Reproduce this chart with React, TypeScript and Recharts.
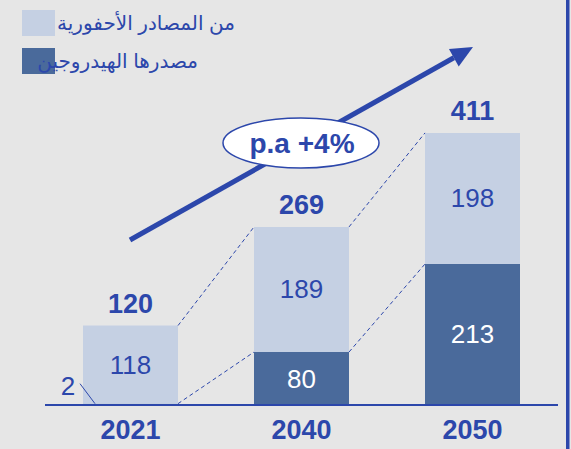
import React from "react";
import { BarChart, Bar, XAxis, YAxis, LabelList, ReferenceLine } from "recharts";

const years = ["2021", "2040", "2050"];
const hydrogen = [2, 80, 213];
const fossil = [118, 189, 198];
const totals = [120, 269, 411];
const legendLabels = ["من المصادر الأحفورية", "مصدرها الهيدروجين"];
const growthLabel = "p.a +4%";

const data = years.map((y, i) => ({ x: i, year: y, hydrogen: hydrogen[i], fossil: fossil[i], total: totals[i] }));

const W = 571;
const H = 449;
const M = { top: 74, right: 13, left: 45, bottom: 0 };
const BAR_SIZE = 95;
const PLOT_W = W - M.left - M.right;
const HALF = BAR_SIZE / 2 / (PLOT_W / years.length);

const BLUE = "#2c47ab";
const LIGHT = "#c5d0e3";
const DARK = "#4a6a9b";
const FONT = "'Liberation Sans', Arial, 'DejaVu Sans', sans-serif";

const InnerLabel = (fill: string) => (props: any) => {
  const { x, y, width, height, value, index } = props;
  if (value < 10) {
    return (
      <g key={index}>
        <text x={x - 15} y={y - 9} textAnchor="middle" fontSize={26} fill={BLUE} fontFamily={FONT}>{value}</text>
        <line x1={x - 3} y1={y - 20} x2={x + 12} y2={y} stroke={BLUE} strokeWidth={1} />
      </g>
    );
  }
  return (
    <text x={x + width / 2} y={y + height / 2 + 9} textAnchor="middle" fontSize={26} fill={fill} fontFamily={FONT} key={index}>{value}</text>
  );
};

const segs: any[] = [];
for (let i = 0; i < years.length - 1; i++) {
  segs.push([{ x: i + HALF, y: hydrogen[i] }, { x: i + 1 - HALF, y: hydrogen[i + 1] }]);
  segs.push([{ x: i + HALF, y: totals[i] }, { x: i + 1 - HALF, y: totals[i + 1] }]);
}

export default function App() {
  const tip = { x: 473, y: 47 };
  const start = { x: 130, y: 240 };
  const dx = tip.x - start.x, dy = tip.y - start.y;
  const len = Math.sqrt(dx * dx + dy * dy);
  const ux = dx / len, uy = dy / len;
  const hl = 22, hw = 10;
  const bx = tip.x - ux * hl, by = tip.y - uy * hl;
  const p1 = `${bx + uy * hw},${by - ux * hw}`;
  const p2 = `${bx - uy * hw},${by + ux * hw}`;
  return (
    <div style={{ position: "absolute", left: 0, top: 0, width: W, height: H, background: "#e6e6e6", fontFamily: FONT }}>
      <BarChart width={W} height={H} data={data} margin={M}>
        <XAxis
          type="number"
          dataKey="x"
          domain={[-0.5, 2.5]}
          ticks={[0, 1, 2]}
          tickFormatter={(v: number) => years[v]}
          axisLine={{ stroke: BLUE, strokeWidth: 2 }}
          tickLine={false}
          tickMargin={9}
          height={44}
          tick={{ fill: BLUE, fontSize: 27, fontWeight: "bold", fontFamily: FONT }}
        />
        <YAxis hide domain={[0, 500]} />
        {segs.map((s, i) => (
          <ReferenceLine key={i} segment={s} stroke={BLUE} strokeWidth={1} strokeDasharray="4 3" />
        ))}
        <Bar dataKey="hydrogen" stackId="a" fill={DARK} barSize={BAR_SIZE} isAnimationActive={false}>
          <LabelList dataKey="hydrogen" content={InnerLabel("#ffffff")} />
        </Bar>
        <Bar dataKey="fossil" stackId="a" fill={LIGHT} barSize={BAR_SIZE} isAnimationActive={false}>
          <LabelList dataKey="fossil" content={InnerLabel(BLUE)} />
          <LabelList dataKey="total" position="top" offset={13} fill={BLUE} fontSize={27} fontWeight="bold" fontFamily={FONT} />
        </Bar>
      </BarChart>
      <svg width={W} height={H} style={{ position: "absolute", left: 0, top: 0, pointerEvents: "none" }}>
        <rect x={22} y={10} width={33} height={26} fill={LIGHT} />
        <rect x={22} y={48} width={33} height={26} fill={DARK} />
        <text x={235} y={30} textAnchor="end" fontSize={20} fill={BLUE} fontFamily={FONT}>{legendLabels[0]}</text>
        <text x={198} y={68} textAnchor="end" fontSize={20} fill={BLUE} fontFamily={FONT}>{legendLabels[1]}</text>
        <line x1={start.x} y1={start.y} x2={bx} y2={by} stroke={BLUE} strokeWidth={5} />
        <polygon points={`${tip.x},${tip.y} ${p1} ${p2}`} fill={BLUE} />
        <ellipse cx={301} cy={143} rx={78} ry={25} fill="#ffffff" stroke={BLUE} strokeWidth={1.5} />
        <text x={302} y={153} textAnchor="middle" fontSize={28} fontWeight="bold" fill={BLUE} fontFamily={FONT}>{growthLabel}</text>
        <rect x={566} y={0} width={3.5} height={H} fill={BLUE} />
      </svg>
    </div>
  );
}
